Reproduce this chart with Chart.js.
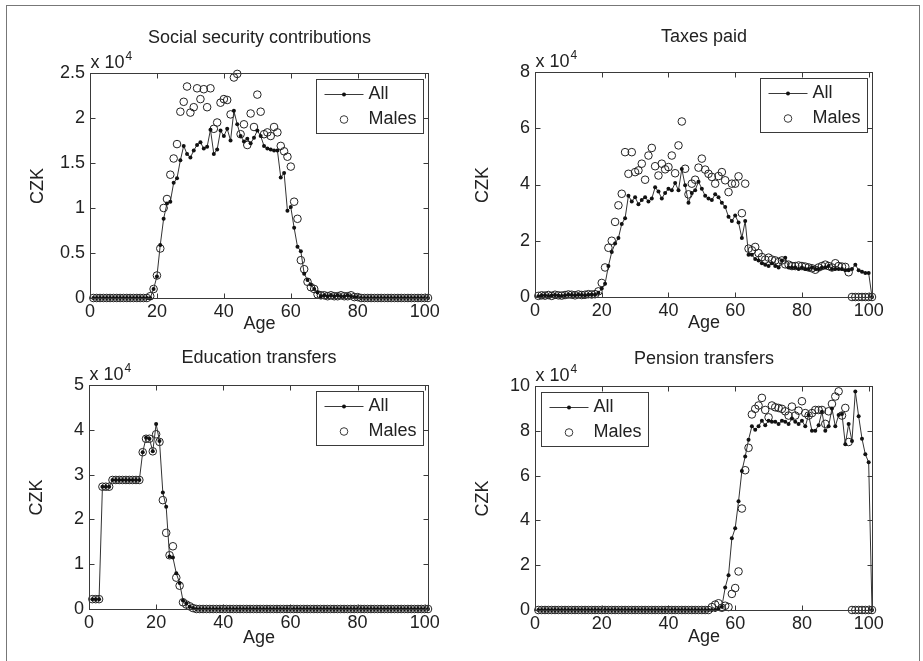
<!DOCTYPE html>
<html>
<head>
<meta charset="utf-8">
<script src="https://cdn.jsdelivr.net/npm/chart.js@4.4.1/dist/chart.umd.min.js"></script>
<style>
  body { margin: 0; background: #fff; }
  #page { position: relative; width: 923px; height: 661px; overflow: hidden; background: #fff; }
  #frame { position: absolute; left: 6px; top: 5px; width: 912px; height: 700px; border: 1px solid #777; }
  canvas { position: absolute; }
</style>
</head>
<body>
<div id="page">
  <div id="frame"></div>
  <canvas id="c1"></canvas>
  <canvas id="c2"></canvas>
  <canvas id="c3"></canvas>
  <canvas id="c4"></canvas>
</div>
<script>
// ages plotted at 1..101 (MATLAB index style), values in units of 10^4 CZK
const ages = Array.from({ length: 101 }, (_, i) => i + 1)
const xTicks = [0, 20, 40, 60, 80, 100]

const ssTicks = [0, 0.5, 1, 1.5, 2, 2.5]
const ssLabels = ['0', '0.5', '1', '1.5', '2', '2.5']
const ssAll = [
  0, 0, 0, 0, 0, 0, 0, 0, 0, 0, 0, 0, 0, 0, 0, 0, 0,
  0, 0.1, 0.24, 0.59, 0.88, 1.05, 1.07, 1.28, 1.33, 1.53, 1.69, 1.6, 1.56,
  1.64, 1.7, 1.73, 1.66, 1.68, 1.87, 1.6, 1.65, 1.86, 1.8, 1.88, 1.75, 2.08,
  1.93, 1.8, 1.74, 1.77, 1.72, 1.78, 1.86, 1.8, 1.69, 1.66, 1.65, 1.64, 1.64,
  1.34, 1.39, 0.97, 1.01, 0.78, 0.57, 0.52, 0.27, 0.2, 0.15, 0.1, 0.06, 0.02,
  0.03, 0.02, 0.03, 0.02, 0.03, 0.02, 0.02, 0.03, 0.02, 0.01, 0.01,
  0, 0, 0, 0, 0, 0, 0, 0, 0, 0, 0, 0, 0, 0, 0, 0, 0, 0, 0, 0, 0
]
const ssMales = [
  0, 0, 0, 0, 0, 0, 0, 0, 0, 0, 0, 0, 0, 0, 0, 0, 0,
  0.02, 0.1, 0.25, 0.55, 1.0, 1.1, 1.37, 1.55, 1.71, 2.07, 2.18, 2.35, 2.06,
  2.12, 2.33, 2.21, 2.32, 2.12, 2.33, 1.88, 1.95, 2.17, 2.21, 2.2, 2.04, 2.45,
  2.49, 1.82, 1.93, 1.7, 2.05, 1.9, 2.26, 2.07, 1.82, 1.84, 1.8, 1.9, 1.84,
  1.69, 1.63, 1.57, 1.46, 1.07, 0.88, 0.42, 0.32, 0.18, 0.12, 0.1, 0.04, 0.03,
  0.03, 0.02, 0.03, 0.02, 0.02, 0.03, 0.02, 0.02, 0.03, 0.01, 0.01,
  0, 0, 0, 0, 0, 0, 0, 0, 0, 0, 0, 0, 0, 0, 0, 0, 0, 0, 0, 0, 0
]

const taxTicks = [0, 2, 4, 6, 8]
const taxLabels = ['0', '2', '4', '6', '8']
const taxAll = [
  0.03, 0.05, 0.06, 0.04, 0.05, 0.07, 0.05, 0.04, 0.06, 0.08, 0.07, 0.06, 0.08, 0.07, 0.06, 0.08, 0.09,
  0.08, 0.15, 0.3, 0.47, 1.1, 1.6, 1.9, 2.1, 2.6, 2.8, 3.6,
  3.4, 3.55, 3.3, 3.45, 3.55, 3.4, 3.5, 3.9, 3.75, 3.5, 3.7, 3.85, 3.8, 4.05, 3.8,
  4.55,
  3.97, 3.35, 3.7, 3.8, 4.1, 3.85, 3.6, 3.5, 3.45, 3.65, 3.55, 3.35, 3.2, 2.85, 2.7, 2.9, 2.65, 2.1, 2.7,
  1.5, 1.5, 1.35, 1.3, 1.2, 1.15, 1.1, 1.2, 1.1, 1.05, 1.3, 1.4, 1.05, 1.05, 1.05, 1.0, 1.05, 1.0, 1.0,
  1.05, 1.0, 1.0, 1.05, 1.05, 1.1, 1.0, 1.0, 1.0, 1.0, 0.95, 0.95, 1.0, 1.15, 0.95, 0.9, 0.85, 0.85,
  0
]
const taxMales = [
  0.04, 0.06, 0.05, 0.07, 0.04, 0.08, 0.06, 0.05, 0.07, 0.09, 0.08, 0.06, 0.09, 0.07, 0.08, 0.1, 0.09,
  0.1, 0.2, 0.5, 1.05, 1.75, 2.0, 2.67, 3.26, 3.67, 5.15, 4.38, 5.15, 4.44, 4.5, 4.74, 4.17, 5.03, 5.3,
  4.65, 4.32, 4.74, 4.54, 4.62, 5.03, 4.4, 5.39, 6.24,
  4.56, 3.65, 4.03, 4.17, 4.6, 4.92, 4.53, 4.38, 4.27, 4.03, 4.3, 4.44, 4.15, 3.73, 4.03, 4.03, 4.29, 2.98, 4.03,
  1.72, 1.66, 1.78, 1.56, 1.42, 1.33, 1.4, 1.33, 1.3, 1.24, 1.3, 1.16, 1.15, 1.1, 1.1, 1.12, 1.1, 1.08,
  1.05, 1.02, 0.97, 1.05, 1.1, 1.15, 1.1, 1.05, 1.2, 1.1, 1.08, 1.07, 0.88,
  0, 0, 0, 0, 0, 0, 0
]

const eduTicks = [0, 1, 2, 3, 4, 5]
const eduLabels = ['0', '1', '2', '3', '4', '5']
const eduAll = [
  0.22, 0.22, 0.22, 2.73, 2.73, 2.73, 2.88, 2.88, 2.88, 2.88, 2.88, 2.88, 2.88, 2.88, 2.88,
  3.5, 3.82, 3.8, 3.52, 4.13, 3.75, 2.6, 2.28, 1.17, 1.15, 0.8, 0.58, 0.19, 0.12, 0.05, 0.02,
  0, 0, 0, 0, 0, 0, 0, 0, 0, 0, 0, 0, 0, 0, 0, 0, 0, 0, 0, 0, 0, 0, 0, 0, 0, 0, 0, 0, 0, 0, 0, 0, 0, 0, 0,
  0, 0, 0, 0, 0, 0, 0, 0, 0, 0, 0, 0, 0, 0, 0, 0, 0, 0, 0, 0, 0, 0, 0, 0, 0, 0, 0, 0, 0, 0, 0, 0, 0, 0, 0
]
const eduMales = [
  0.22, 0.22, 0.22, 2.73, 2.73, 2.73, 2.88, 2.88, 2.88, 2.88, 2.88, 2.88, 2.88, 2.88, 2.88,
  3.5, 3.8, 3.8, 3.52, 3.9, 3.73, 2.43, 1.7, 1.2, 1.4, 0.7, 0.52, 0.15, 0.1, 0.06, 0.02,
  0, 0, 0, 0, 0, 0, 0, 0, 0, 0, 0, 0, 0, 0, 0, 0, 0, 0, 0, 0, 0, 0, 0, 0, 0, 0, 0, 0, 0, 0, 0, 0, 0, 0, 0,
  0, 0, 0, 0, 0, 0, 0, 0, 0, 0, 0, 0, 0, 0, 0, 0, 0, 0, 0, 0, 0, 0, 0, 0, 0, 0, 0, 0, 0, 0, 0, 0, 0, 0, 0
]

const penTicks = [0, 2, 4, 6, 8, 10]
const penLabels = ['0', '2', '4', '6', '8', '10']
const penAll = [
  0, 0, 0, 0, 0, 0, 0, 0, 0, 0, 0, 0, 0, 0, 0, 0, 0, 0, 0, 0, 0, 0, 0, 0, 0, 0, 0,
  0, 0, 0, 0, 0, 0, 0, 0, 0, 0, 0, 0, 0, 0, 0, 0, 0, 0, 0, 0, 0, 0, 0, 0, 0, 0, 0,
  0.05, 0.15,
  1.0, 1.55, 3.2, 3.65, 4.85, 6.2, 6.85, 7.6, 8.2,
  8.05, 8.2, 8.45, 8.25, 8.45, 8.4, 8.4, 8.3, 8.45, 8.4, 8.3, 8.55, 8.4, 8.3, 8.45,
  8.2, 8.7, 8.0, 8.0, 8.25, 8.85, 8.0, 8.2, 9.0, 8.2, 8.7, 8.75, 7.4, 8.3, 7.55,
  9.75, 8.65, 7.65, 6.95, 6.6,
  0
]
const penMales = [
  0, 0, 0, 0, 0, 0, 0, 0, 0, 0, 0, 0, 0, 0, 0, 0, 0, 0, 0, 0, 0, 0, 0, 0, 0, 0,
  0, 0, 0, 0, 0, 0, 0, 0, 0, 0, 0, 0, 0, 0, 0, 0, 0, 0, 0, 0, 0, 0, 0, 0, 0, 0,
  0.13, 0.24, 0.3, 0.1, 0.19, 0.13, 0.72, 0.98, 1.72, 4.53,
  6.24, 7.24, 8.73, 8.98, 9.13, 9.47, 8.93, 8.6, 9.13, 9.05,
  9.02, 8.98, 8.87, 8.68, 9.08, 8.68, 8.9, 9.32, 8.79, 8.68,
  8.79, 8.93, 8.93, 8.93, 8.31, 8.87, 9.2, 9.53, 9.76, 8.68,
  9.02, 7.5,
  0, 0, 0, 0, 0, 0, 0
]

const FONT = '"Liberation Sans", Arial, Helvetica, sans-serif'
const INK = '#222'

// MATLAB look: boxed axes, inward ticks on all sides, titles, exponent, legend box
const matlabAxes = {
  id: 'matlabAxes',
  afterDatasetsDraw(chart, args, o) {
    const { ctx, chartArea: a } = chart
    const xs = chart.scales.x, ys = chart.scales.y
    const l = Math.round(a.left) + 0.5, t = Math.round(a.top) + 0.5
    const r = Math.round(a.right) + 0.5, b = Math.round(a.bottom) + 0.5
    ctx.save()
    ctx.strokeStyle = '#3a3a3a'
    ctx.lineWidth = 1
    ctx.beginPath()
    xs.ticks.forEach(tk => {
      const px = Math.round(xs.getPixelForValue(tk.value)) + 0.5
      ctx.moveTo(px, b); ctx.lineTo(px, b - 5)
      ctx.moveTo(px, t); ctx.lineTo(px, t + 5)
    })
    ys.ticks.forEach(tk => {
      const py = Math.round(ys.getPixelForValue(tk.value)) + 0.5
      ctx.moveTo(l, py); ctx.lineTo(l + 5, py)
      ctx.moveTo(r, py); ctx.lineTo(r - 5, py)
    })
    ctx.stroke()
    ctx.strokeRect(l, t, r - l, b - t)

    ctx.fillStyle = INK
    ctx.textBaseline = 'middle'
    ctx.textAlign = 'center'
    ctx.font = '18px ' + FONT
    ctx.fillText(o.title, (l + r) / 2, t - o.titleGap)
    ctx.fillText('Age', (l + r) / 2, b + o.ageGap)

    ctx.textAlign = 'left'
    ctx.fillText('x 10', l, t - 10)
    const w = ctx.measureText('x 10').width
    ctx.font = '12px ' + FONT
    ctx.fillText('4', l + w + 1, t - 17)

    ctx.save()
    ctx.translate(l - 52, (t + b) / 2)
    ctx.rotate(-Math.PI / 2)
    ctx.font = '18px ' + FONT
    ctx.textAlign = 'center'
    ctx.fillText('CZK', 0, 0)
    ctx.restore()

    // legend
    const bw = 107, bh = 54
    const bx = o.legendSide === 'right' ? Math.round(r - 6 - bw) + 0.5 : l + 6
    const by = t + 6
    ctx.fillStyle = '#fff'
    ctx.fillRect(bx, by, bw, bh)
    ctx.strokeRect(bx, by, bw, bh)
    const y1 = by + 15, y2 = by + 40, mx = bx + 27.5
    ctx.beginPath()
    ctx.moveTo(bx + 8, y1); ctx.lineTo(bx + 47, y1)
    ctx.stroke()
    ctx.fillStyle = '#111'
    ctx.beginPath(); ctx.arc(mx, y1, 2, 0, Math.PI * 2); ctx.fill()
    ctx.beginPath(); ctx.arc(mx, y2, 3.8, 0, Math.PI * 2); ctx.stroke()
    ctx.fillStyle = INK
    ctx.font = '18px ' + FONT
    ctx.fillText('All', bx + 52, y1)
    ctx.fillText('Males', bx + 52, y2)
    ctx.restore()
  }
}

const panels = [
  { id: 'c1', title: 'Social security contributions', all: ssAll, males: ssMales,
    yMax: 2.5, yTicks: ssTicks, yLabels: ssLabels, box: [90, 73, 428, 298], titleGap: 35, ageGap: 26, legendSide: 'right' },
  { id: 'c2', title: 'Taxes paid', all: taxAll, males: taxMales,
    yMax: 8, yTicks: taxTicks, yLabels: taxLabels, box: [535, 72, 872, 297], titleGap: 35, ageGap: 26, legendSide: 'right' },
  { id: 'c3', title: 'Education transfers', all: eduAll, males: eduMales,
    yMax: 5, yTicks: eduTicks, yLabels: eduLabels, box: [89, 385, 428, 609], titleGap: 27, ageGap: 29, legendSide: 'right' },
  { id: 'c4', title: 'Pension transfers', all: penAll, males: penMales,
    yMax: 10, yTicks: penTicks, yLabels: penLabels, box: [535, 386, 872, 610], titleGap: 27, ageGap: 27, legendSide: 'left' }
]

panels.forEach(p => {
  const [L, T, R, B] = p.box
  const padL = 70, padT = 55, padR = 20, padB = 50
  const cv = document.getElementById(p.id)
  cv.width = R - L + padL + padR
  cv.height = B - T + padT + padB
  cv.style.left = (L - padL) + 'px'
  cv.style.top = (T - padT) + 'px'

  new Chart(cv, {
    type: 'line',
    data: {
      datasets: [{
        label: 'All',
        data: ages.map((a, i) => ({ x: a, y: p.all[i] })),
        borderColor: '#333',
        borderWidth: 1,
        pointRadius: 2,
        pointBorderWidth: 0,
        pointBackgroundColor: '#111',
        clip: false
      }, {
        label: 'Males',
        data: ages.map((a, i) => ({ x: a, y: p.males[i] })),
        showLine: false,
        pointRadius: 3.8,
        pointBorderWidth: 1,
        pointBorderColor: '#222',
        pointBackgroundColor: 'rgba(0,0,0,0)',
        clip: false
      }]
    },
    options: {
      responsive: false,
      animation: false,
      devicePixelRatio: 1,
      layout: { padding: { left: 0, top: padT, right: padR, bottom: 0 } },
      plugins: {
        legend: { display: false },
        tooltip: { enabled: false },
        matlabAxes: { title: p.title, titleGap: p.titleGap, ageGap: p.ageGap, legendSide: p.legendSide }
      },
      scales: {
        x: {
          type: 'linear', min: 0, max: 101,
          afterBuildTicks: s => { s.ticks = xTicks.map(v => ({ value: v })) },
          afterFit: s => { s.height = padB },
          grid: { display: false, drawTicks: false },
          border: { display: false },
          ticks: { font: { family: FONT, size: 18 }, color: INK, padding: 3, maxRotation: 0, autoSkip: false,
            callback: v => String(v) }
        },
        y: {
          type: 'linear', min: 0, max: p.yMax,
          afterBuildTicks: s => { s.ticks = p.yTicks.map(v => ({ value: v })) },
          afterFit: s => { s.width = padL },
          grid: { display: false, drawTicks: false },
          border: { display: false },
          ticks: { font: { family: FONT, size: 18 }, color: INK, padding: 5, autoSkip: false,
            callback: (v, i) => p.yLabels[i] }
        }
      }
    },
    plugins: [matlabAxes]
  })
})
</script>
</body>
</html>
